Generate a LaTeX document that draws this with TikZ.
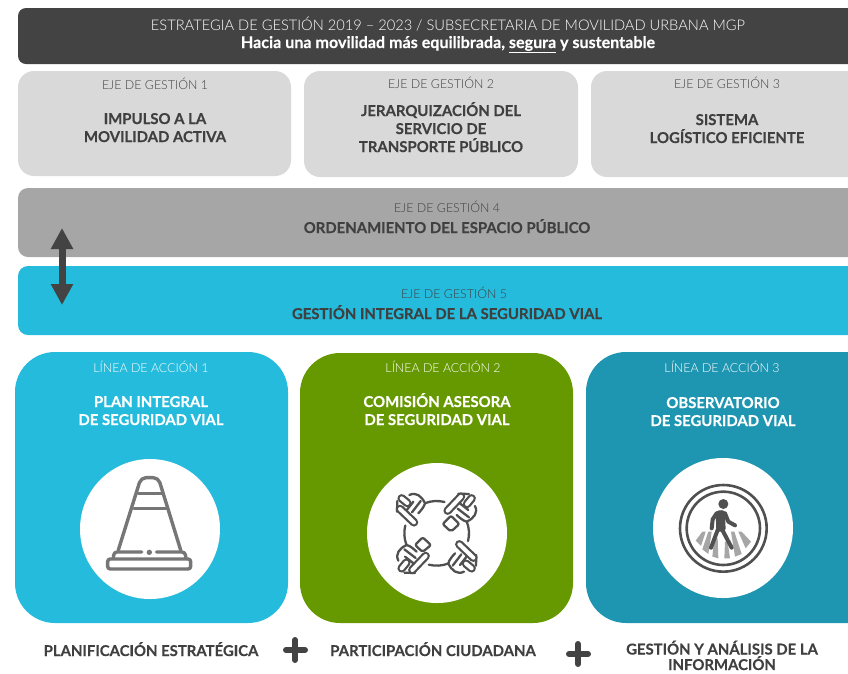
\documentclass[tikz,border=0pt]{standalone}
\usepackage{fontspec}
\setmainfont{Lato}[BoldFeatures={FakeBold=0.3}]
\newfontfamily\latolight{Lato Light}
\usetikzlibrary{arrows.meta}
\definecolor{cdark}{HTML}{434343}
\definecolor{clight}{HTML}{D9D9D9}
\definecolor{cmid}{HTML}{A6A6A6}
\definecolor{ccyan}{HTML}{24BBDC}
\definecolor{cgreen}{HTML}{669900}
\definecolor{cteal}{HTML}{1F96B1}
\definecolor{ctext}{HTML}{404040}
\definecolor{cicon}{HTML}{767676}
\definecolor{cicond}{HTML}{505050}
\tikzset{
  ejebox/.style={rounded corners=16pt},
  bandbox/.style={rounded corners=10pt},
  cardbox/.style={rounded corners=40pt},
  smalltxt/.style={anchor=base,inner sep=0pt,font=\fontsize{12.4}{14}\selectfont\latolight,text=ctext},
  boldtxt/.style={anchor=base,inner sep=0pt,font=\fontsize{14.9}{16}\selectfont\bfseries,text=ctext},
  cardsmall/.style={anchor=base,inner sep=0pt,font=\fontsize{12.4}{14}\selectfont\latolight,text=white},
  cardbold/.style={anchor=base,inner sep=0pt,font=\fontsize{14.9}{16}\selectfont\bfseries,text=white},
  iconline/.style={draw=cicon,line width=3.4pt,line cap=round,line join=round},
  handline/.style={draw=cicond,line width=2.3pt,line cap=round,line join=round},
  pedline/.style={draw=cicond,line width=4pt,line cap=round,line join=round},
  capsout/.style={draw=cicond,line width=8.5pt,line cap=round},
  capsin/.style={draw=white,line width=4pt,line cap=round},
}
\begin{document}
\begin{tikzpicture}[x=1pt,y=-1pt]
\useasboundingbox (0,0) rectangle (848,673);
\clip (0,0) rectangle (848,673);
% top band
\fill[cdark,rounded corners=8pt] (18,8) rectangle (880,64);
\node[anchor=base,inner sep=0pt,font=\fontsize{14.65}{16}\selectfont\latolight,text=white] (tA) at (448,30) {ESTRATEGIA DE GESTIÓN 2019 – 2023 / SUBSECRETARIA DE MOVILIDAD URBANA MGP};
\node[anchor=base,inner sep=0pt,font=\fontsize{16.1}{16}\selectfont\bfseries,text=white] (tB) at (448,48) {Hacia una movilidad más equilibrada, \underline{segura} y sustentable};
% axes
\fill[clight,ejebox] (18,71) rectangle (291,176);
\fill[clight,ejebox] (304,71) rectangle (578,177);
\fill[clight,ejebox] (591,71) rectangle (880,177);
\node[smalltxt] (e1a) at (155,89) {EJE DE GESTIÓN 1};
\node[boldtxt] (e1b) at (155,124) {IMPULSO A LA};
\node[boldtxt] (e1c) at (155,142) {MOVILIDAD ACTIVA};
\node[smalltxt] (e2a) at (441,88) {EJE DE GESTIÓN 2};
\node[boldtxt] (e2b) at (441,116) {JERARQUIZACIÓN DEL};
\node[boldtxt] (e2c) at (441,134) {SERVICIO DE};
\node[boldtxt] (e2d) at (441,152) {TRANSPORTE PÚBLICO};
\node[smalltxt] (e3a) at (727,88) {EJE DE GESTIÓN 3};
\node[boldtxt] (e3b) at (727,125) {SISTEMA};
\node[boldtxt] (e3c) at (727,143) {LOGÍSTICO EFICIENTE};
\fill[cmid,bandbox] (18,188) rectangle (880,257);
\node[smalltxt] (e4a) at (447,212) {EJE DE GESTIÓN 4};
\node[boldtxt] (e4b) at (447,233) {ORDENAMIENTO DEL ESPACIO PÚBLICO};
\fill[ccyan,bandbox] (18,266) rectangle (880,335);
\node[smalltxt] (e5a) at (454,298) {EJE DE GESTIÓN 5};
\node[boldtxt] (e5b) at (447,319) {GESTIÓN INTEGRAL DE LA SEGURIDAD VIAL};
% double arrow
\coordinate (arrT) at (62,228);
\coordinate (arrB) at (62,305);
\draw[cdark,line width=7pt,{Triangle[width=21pt,length=21pt]}-{Triangle[width=21pt,length=21pt]}] (arrT) -- (arrB);
% cards
\fill[ccyan,cardbox] (15,352) rectangle (288,623);
\fill[cgreen,cardbox] (300,353) rectangle (573,623);
\fill[cteal,cardbox] (586,352) rectangle (890,623);
\node[cardsmall] (c1a) at (151,372) {LÍNEA DE ACCIÓN 1};
\node[cardbold] (c1b) at (151,407) {PLAN INTEGRAL};
\node[cardbold] (c1c) at (151,425) {DE SEGURIDAD VIAL};
\node[cardsmall] (c2a) at (443,372) {LÍNEA DE ACCIÓN 2};
\node[cardbold] (c2b) at (437,407) {COMISIÓN ASESORA};
\node[cardbold] (c2c) at (437,425) {DE SEGURIDAD VIAL};
\node[cardsmall] (c3a) at (722,372) {LÍNEA DE ACCIÓN 3};
\node[cardbold] (c3b) at (723,408) {OBSERVATORIO};
\node[cardbold] (c3c) at (723,426) {DE SEGURIDAD VIAL};
\fill[white] (150,529) circle (70);
\fill[white] (437,533) circle (70);
\fill[white] (723,528) circle (70);
% cone icon
\begin{scope}[shift={(60,450)},x=0.3333pt,y=-0.3333pt]
\draw[iconline,rounded corners=5pt] (175,300) -- (243,83) -- (295,83) -- (362,300);
\draw[iconline] (235,130) -- (305,130) (222,175) -- (318,175);
\draw[iconline,rounded corners=2.5pt] (143,327) rectangle (392,357);
\draw[iconline,rounded corners=3pt] (160,325) -- (162,306) -- (245,306);
\draw[iconline,rounded corners=3pt] (290,306) -- (375,306) -- (378,325);
\fill[cicon] (268,307) circle (8);
\end{scope}
% round table icon
\begin{scope}[shift={(350,450)},x=0.3333pt,y=-0.3333pt]
\begin{scope}[shift={(260,250)}]
\foreach \a in {0,90,180,270}{
\begin{scope}[rotate=\a]
\draw[handline] (-111:97) arc[start angle=-111,end angle=-76,radius=97];
\draw[handline] (-82,-115) .. controls (-62,-125) and (-45,-112) .. (-35,-90) .. controls (-38,-78) and (-48,-68) .. (-55,-60);
\draw[handline] (-70,-95) -- (-92,-67);
\draw[handline] (-48,-97) -- (-74,-63);
\draw[handline] (-118,-97) -- (-119,-65);
\draw[capsout] (-110,-73) -- (-68,-33);
\draw[capsin] (-110,-73) -- (-68,-33);
\draw[capsout] (-105,-105) -- (-88,-91);
\draw[capsin] (-105,-105) -- (-88,-91);
\end{scope}}
\end{scope}
\draw[handline,rounded corners=2pt] (303,197) -- (328,222) -- (303,245) -- (278,222) -- cycle;
\draw[handline,rounded corners=2pt] (218,262) -- (243,285) -- (218,306) -- (195,285) -- cycle;
\end{scope}
% pedestrian icon
\begin{scope}[shift={(675,480)},x=0.3333pt,y=-0.3333pt]
\draw[cicond,line width=2.6pt] (145,145) circle (130);
\draw[cicond,line width=2.6pt] (145,145) circle (110);
\fill[cmid] (82,155) -- (92,155) -- (78,198) -- (62,182) -- cycle;
\fill[cmid] (100,155) -- (110,155) -- (100,222) -- (82,208) -- cycle;
\fill[cmid] (118,175) -- (128,175) -- (130,235) -- (112,230) -- cycle;
\fill[cmid] (150,185) -- (158,185) -- (165,235) -- (148,235) -- cycle;
\fill[cmid] (168,155) -- (178,155) -- (200,222) -- (180,230) -- cycle;
\fill[cmid] (190,155) -- (200,155) -- (228,185) -- (212,205) -- cycle;
\fill[cicond] (145,72) circle (15);
\fill[cicond,rounded corners=3pt] (122,92) -- (150,90) -- (152,155) -- (124,155) -- cycle;
\draw[pedline] (125,100) -- (113,118) -- (110,145);
\draw[pedline] (150,100) -- (160,125) -- (180,136);
\draw[pedline] (128,150) -- (108,203);
\draw[pedline] (142,150) -- (170,203);
\end{scope}
% bottom labels
\node[boldtxt] (b1) at (151,656) {PLANIFICACIÓN ESTRATÉGICA};
\node[boldtxt] (b2) at (433,656) {PARTICIPACIÓN CIUDADANA};
\node[boldtxt] (b3) at (722,654.5) {GESTIÓN Y ANÁLISIS DE LA};
\node[boldtxt] (b4) at (722,670) {INFORMACIÓN};
\draw[cdark,line width=6pt,line cap=round] (286,650) -- (305,650) (295,640) -- (295,660);
\draw[cdark,line width=6pt,line cap=round] (569,654) -- (588,654) (578,644) -- (578,664);
\end{tikzpicture}
\end{document}
